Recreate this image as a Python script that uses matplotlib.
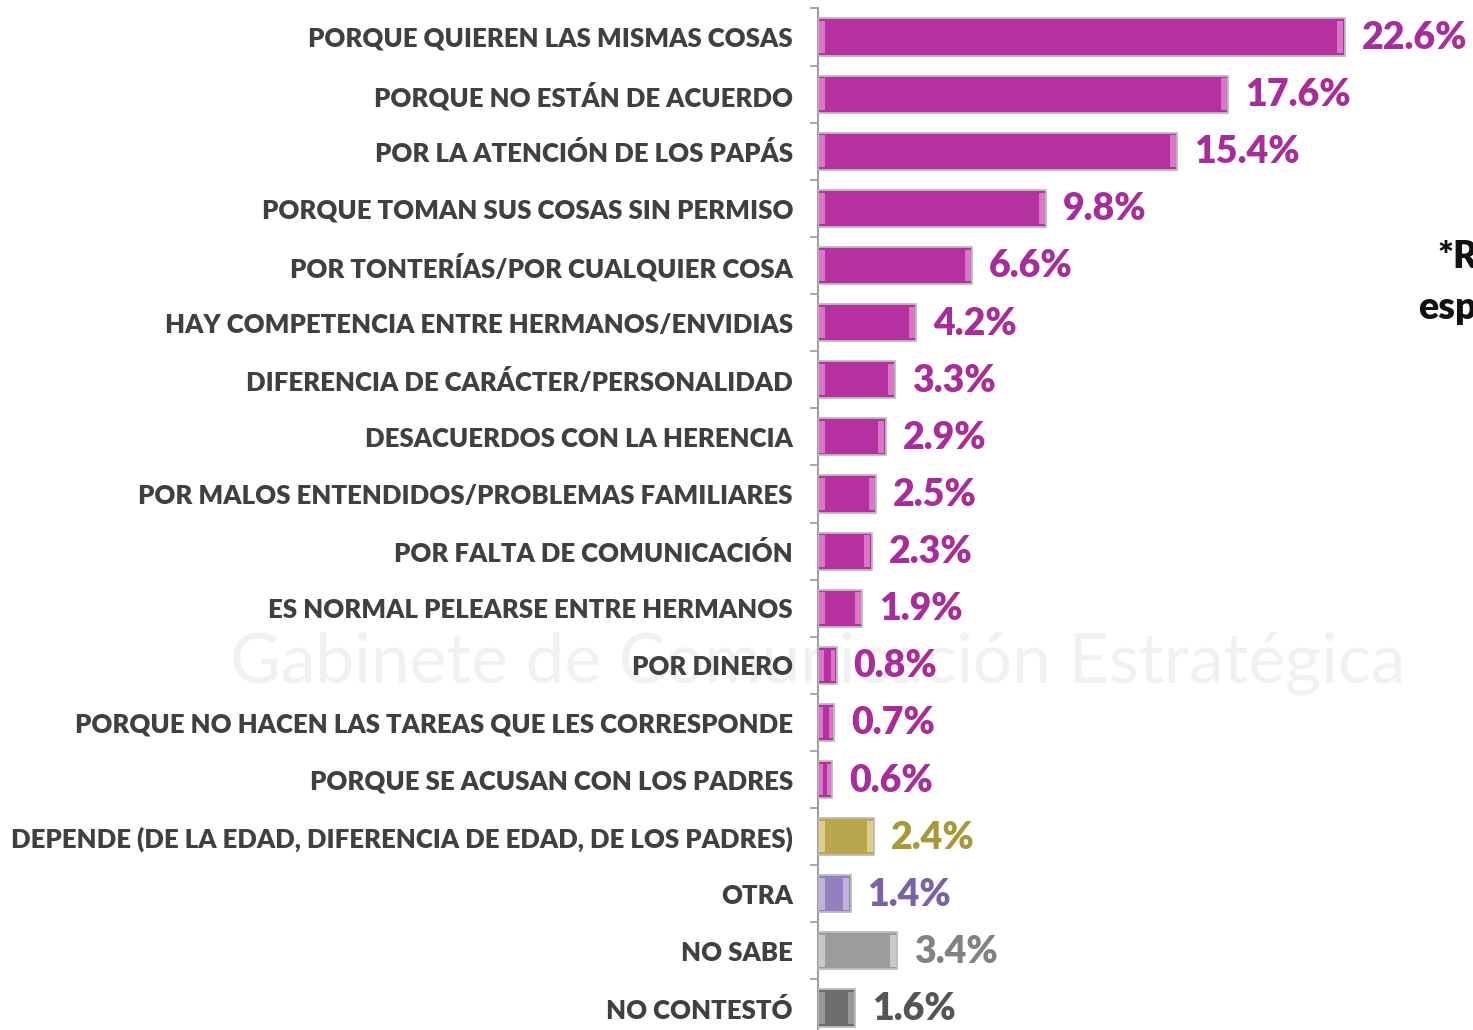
import matplotlib
matplotlib.use("Agg")
import matplotlib.pyplot as plt

categories = [
    "PORQUE QUIEREN LAS MISMAS COSAS",
    "PORQUE NO ESTÁN DE ACUERDO",
    "POR LA ATENCIÓN DE LOS PAPÁS",
    "PORQUE TOMAN SUS COSAS SIN PERMISO",
    "POR TONTERÍAS/POR CUALQUIER COSA",
    "HAY COMPETENCIA ENTRE HERMANOS/ENVIDIAS",
    "DIFERENCIA DE CARÁCTER/PERSONALIDAD",
    "DESACUERDOS CON LA HERENCIA",
    "POR MALOS ENTENDIDOS/PROBLEMAS FAMILIARES",
    "POR FALTA DE COMUNICACIÓN",
    "ES NORMAL PELEARSE ENTRE HERMANOS",
    "POR DINERO",
    "PORQUE NO HACEN LAS TAREAS QUE LES CORRESPONDE",
    "PORQUE SE ACUSAN CON LOS PADRES",
    "DEPENDE (DE LA EDAD, DIFERENCIA DE EDAD, DE LOS PADRES)",
    "OTRA",
    "NO SABE",
    "NO CONTESTÓ",
]
values = [22.6, 17.6, 15.4, 9.8, 6.6, 4.2, 3.3, 2.9, 2.5, 2.3, 1.9, 0.8, 0.7, 0.6, 2.4, 1.4, 3.4, 1.6]
value_labels = ["22.6%", "17.6%", "15.4%", "9.8%", "6.6%", "4.2%", "3.3%", "2.9%", "2.5%",
                "2.3%", "1.9%", "0.8%", "0.7%", "0.6%", "2.4%", "1.4%", "3.4%", "1.6%"]
note_lines = ["*Respuesta", "espontánea"]
watermark = "Gabinete de Comunicación Estratégica"

MAG = "#B5319F"
bar_colors = [MAG] * 14 + ["#B9A64E", "#9480BE", "#9C9C9C", "#6E6E6E"]
hi_colors = ["#F09AE0"] * 14 + ["#F2E8A8", "#DCD0F0", "#E2E2E2", "#B0B0B0"]
text_colors = ["#A82C99"] * 14 + ["#A89838", "#7B62A8", "#828282", "#555555"]

W, H = 1473, 1030
fig = plt.figure(figsize=(W / 100, H / 100), dpi=100)
fig.patch.set_facecolor("white")

# faint watermark behind the chart
fig.text(818 / W, 1 - 663 / H, watermark, ha="center", va="center",
         fontsize=50, color="#F1F1F1", family="Lato", zorder=0)

row0 = 37
step = 57.12
top_px = row0 - step / 2
bot_px = top_px + 18 * step
left_px = 818
px_per_pct = 23.3
xmax = 28.0
ax = fig.add_axes([left_px / W, 1 - bot_px / H, xmax * px_per_pct / W, (bot_px - top_px) / H])
ax.set_zorder(2)
ax.patch.set_alpha(0)

y = list(range(len(categories)))
bh = 0.65
ax.barh(y, values, height=bh, color=bar_colors, edgecolor="#BDBDBD", linewidth=1.3, zorder=3)
# bevel highlights at both ends
hw = [min(0.26, v / 4) for v in values]
ax.barh(y, hw, height=bh * 0.85, left=0.05,
        color=hi_colors, linewidth=0, zorder=4, alpha=0.65)
ax.barh(y, hw, height=bh * 0.85,
        left=[v - h - 0.05 for v, h in zip(values, hw)],
        color=hi_colors, linewidth=0, zorder=4, alpha=0.65)

for yi, v, lab, c in zip(y, values, value_labels, text_colors):
    ax.annotate(lab, (v, yi), xytext=(17, -1), textcoords="offset pixels",
                ha="left", va="center", fontsize=27, fontweight="heavy", color=c,
                family="Lato", zorder=5)

ax.set_xlim(0, xmax)
ax.set_ylim(len(categories) - 0.5, -0.5)
ax.set_yticks(y)
ax.set_yticklabels(categories, fontsize=18.5, fontweight="heavy", color="#404040", family="Lato")
ax.set_yticks([i + 0.5 for i in range(-1, len(categories))], minor=True)
ax.tick_params(axis="y", which="major", length=0, pad=18)
ax.tick_params(axis="y", which="minor", length=6, width=1.3, color="#A0A0A0")
ax.set_xticks([])
for s in ["top", "right", "bottom"]:
    ax.spines[s].set_visible(False)
ax.spines["left"].set_color("#A0A0A0")
ax.spines["left"].set_linewidth(1.5)

fig.text(1437 / W, 1 - 257 / H, note_lines[0], ha="left", va="center", fontsize=27,
         fontweight="heavy", color="#111111", family="Lato")
fig.text(1418 / W, 1 - 308 / H, note_lines[1], ha="left", va="center", fontsize=27,
         fontweight="heavy", color="#111111", family="Lato")

fig.savefig("out.png", dpi=100, facecolor="white")
